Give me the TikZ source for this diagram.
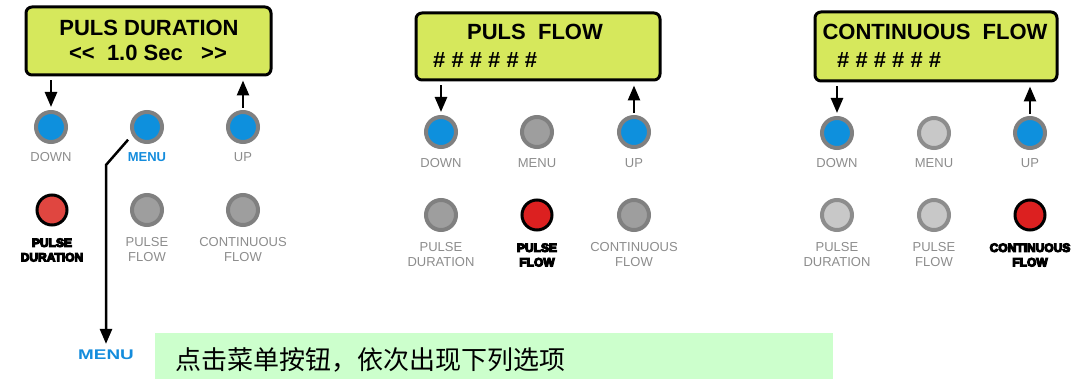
\documentclass[tikz,border=0pt]{standalone}
\usepackage{fontspec}
\setmainfont{Liberation Sans}
\newfontfamily\cjk{Noto Sans CJK SC}
\newfontfamily\heavyfont{Liberation Sans}
\newcommand\fatten[1]{\special{pdf:literal direct 0 0 0 RG 2 Tr 1.1 w}#1\special{pdf:literal direct 0 Tr}}
\usetikzlibrary{arrows.meta}
\definecolor{lcdgreen}{RGB}{214,232,92}
\definecolor{btnblue}{RGB}{14,144,221}
\definecolor{ringgray}{RGB}{128,128,128}
\definecolor{btngray}{RGB}{158,158,158}
\definecolor{btnlight}{RGB}{200,200,200}
\definecolor{labelgray}{RGB}{140,140,140}
\definecolor{redA}{RGB}{224,70,64}
\definecolor{redB}{RGB}{220,32,32}
\definecolor{menublue}{RGB}{20,140,220}
\definecolor{greenbg}{RGB}{204,255,204}
\tikzset{
  lcd/.style={draw=black, line width=3pt, rounded corners=6pt, fill=lcdgreen, inner sep=0},
  lcdtext/.style={font=\bfseries\fontsize{22}{22}\selectfont, inner sep=0},
  btnblue/.style={circle, draw=ringgray, line width=4pt, fill=btnblue, minimum size=30pt, inner sep=0},
  btngray/.style={circle, draw=ringgray, line width=4pt, fill=btngray, minimum size=30pt, inner sep=0},
  btnlight/.style={circle, draw=ringgray!90, line width=4pt, fill=btnlight, minimum size=30pt, inner sep=0},
  btnred/.style={circle, draw=black, line width=3pt, fill=#1, minimum size=30pt, inner sep=0},
  lbl/.style={font=\fontsize{13}{15}\selectfont, text=labelgray, inner sep=0, align=center},
  heavy/.style={font=\heavyfont\bfseries\fontsize{12}{14.5}\selectfont, text=black, inner sep=0, align=center},
  arr/.style={line width=2.5pt, -{Triangle[width=12pt,length=15pt]}},
}
\begin{document}
\begin{tikzpicture}[x=1pt,y=-1pt]
\useasboundingbox (0,0) rectangle (1072,379);
% ---------- Panel 1 ----------
\node[lcd, minimum width=245pt, minimum height=68pt] (lcd1) at (148.5,41) {};
\node[lcdtext] (t1a) at (149,28) {PULS DURATION};
\node[lcdtext] (t1b) at (148,53) {{<}{<}\ \ 1.0 Sec\ \ \ {>}{>}};
\node[btnblue] (dn1) at (51,127) {};
\node[btnblue] (mn1) at (147,127) {};
\node[btnblue] (up1) at (243,127) {};
\node[lbl] (ldn1) at (51,157) {DOWN};
\node[lbl, text=menublue, font=\bfseries\fontsize{13}{15}\selectfont] (lmn1) at (147,157) {MENU};
\node[lbl] (lup1) at (243,157) {UP};
\node[btnred=redA] (pd1) at (52,210) {};
\node[btngray] (pf1) at (147,210) {};
\node[btngray] (cf1) at (243,210) {};
\node[heavy] (lpd1) at (52,250) {\fatten{PULSE}\\\fatten{DURATION}};
\node[lbl] (lpf1) at (147,250) {PULSE\\FLOW};
\node[lbl] (lcf1) at (243,250) {CONTINUOUS\\FLOW};
\draw[arr] ([yshift=-4pt]lcd1.south -| dn1) -- ([yshift=3pt]dn1.north);
\draw[arr] ([yshift=2pt]up1.north) -- ([yshift=-4pt]lcd1.south -| up1);
% menu connector
\node[font=\bfseries\fontsize{14}{14}\selectfont, text=menublue, inner sep=0, xscale=1.35] (menuB) at (106,355) {MENU};
\coordinate (bend) at (106,165);
\draw[arr] ([shift={(-5pt,-3pt)}]mn1.215) -- (bend) -- ([yshift=6pt]bend |- menuB.north);
% ---------- Panel 2 ----------
\node[lcd, minimum width=244pt, minimum height=67pt] (lcd2) at (538,46.5) {};
\node[lcdtext] (t2a) at (535,32) {PULS\ \ FLOW};
\node[lcdtext, anchor=west] (t2b) at (433,60) {\# \# \# \# \# \#};
\node[btnblue] (dn2) at (441,132) {};
\node[btngray] (mn2) at (537,132) {};
\node[btnblue] (up2) at (634,132) {};
\node[lbl] (ldn2) at (441,163) {DOWN};
\node[lbl] (lmn2) at (537,163) {MENU};
\node[lbl] (lup2) at (634,163) {UP};
\node[btngray] (pd2) at (441,215) {};
\node[btnred=redB] (pf2) at (537,215) {};
\node[btngray] (cf2) at (634,215) {};
\node[lbl] (lpd2) at (441,255) {PULSE\\DURATION};
\node[heavy] (lpf2) at (537,255) {\fatten{PULSE}\\\fatten{FLOW}};
\node[lbl] (lcf2) at (634,255) {CONTINUOUS\\FLOW};
\draw[arr] ([yshift=-4pt]lcd2.south -| dn2) -- ([yshift=3pt]dn2.north);
\draw[arr] ([yshift=2pt]up2.north) -- ([yshift=-4pt]lcd2.south -| up2);
% ---------- Panel 3 ----------
\node[lcd, minimum width=242pt, minimum height=69pt] (lcd3) at (936,46.5) {};
\node[lcdtext] (t3a) at (935,32) {CONTINUOUS\ \ FLOW};
\node[lcdtext, anchor=west] (t3b) at (837,60) {\# \# \# \# \# \#};
\node[btnblue] (dn3) at (837,133) {};
\node[btnlight] (mn3) at (934,133) {};
\node[btnblue] (up3) at (1030,133) {};
\node[lbl] (ldn3) at (837,163) {DOWN};
\node[lbl] (lmn3) at (934,163) {MENU};
\node[lbl] (lup3) at (1030,163) {UP};
\node[btnlight] (pd3) at (837,215) {};
\node[btnlight] (pf3) at (934,215) {};
\node[btnred=redB] (cf3) at (1030,215) {};
\node[lbl] (lpd3) at (837,255) {PULSE\\DURATION};
\node[lbl] (lpf3) at (934,255) {PULSE\\FLOW};
\node[heavy] (lcf3) at (1030,255) {\fatten{CONTINUOUS}\\\fatten{FLOW}};
\draw[arr] ([yshift=-4pt]lcd3.south -| dn3) -- ([yshift=3pt]dn3.north);
\draw[arr] ([yshift=2pt]up3.north) -- ([yshift=-4pt]lcd3.south -| up3);
% ---------- bottom note ----------
\node[fill=greenbg, minimum width=678pt, minimum height=46pt, inner sep=0, anchor=north west] (note) at (155,333) {};
\node[font=\cjk\fontsize{26}{26}\selectfont, inner sep=0, anchor=west] (notetext) at (175,360) {点击菜单按钮，依次出现下列选项};
\end{tikzpicture}
\end{document}
